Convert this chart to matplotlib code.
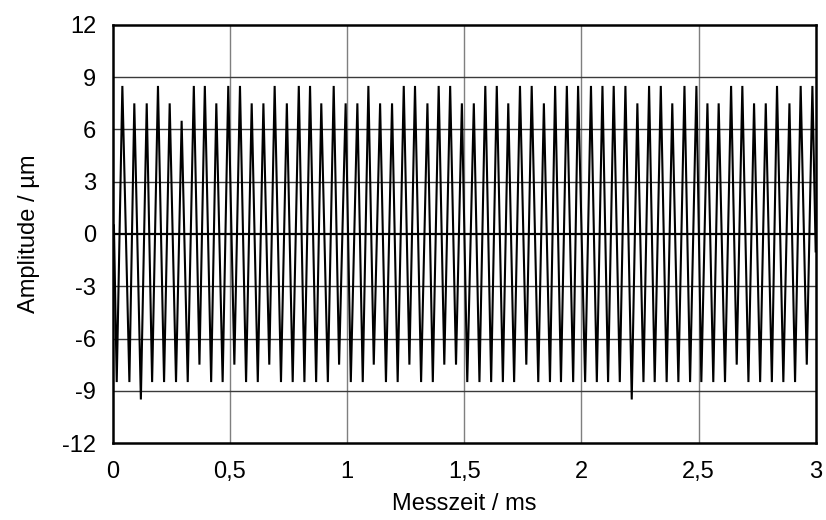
import matplotlib
matplotlib.use("Agg")
import matplotlib.pyplot as plt
from matplotlib.ticker import FuncFormatter

plt.rcParams['font.family'] = ['Liberation Sans', 'DejaVu Sans']

# Start and end of the recorded trace (time in ms, amplitude in µm)
start_point = (0.005, 0.5)
end_point = (3.0, -1.0)

# Positive extremes of the oscillation
peak_times = [
    0.041, 0.092, 0.145, 0.193, 0.243, 0.294, 0.346, 0.393, 0.442, 0.493,
    0.543, 0.593, 0.643, 0.691, 0.743, 0.794, 0.842, 0.890, 0.943, 0.994,
    1.044, 1.091, 1.141, 1.192, 1.242, 1.290, 1.343, 1.391, 1.440, 1.490,
    1.541, 1.590, 1.639, 1.688, 1.738, 1.788, 1.840, 1.888, 1.938, 1.986,
    2.041, 2.090, 2.138, 2.188, 2.239, 2.289, 2.339, 2.388, 2.440, 2.491,
    2.538, 2.586, 2.639, 2.687, 2.737, 2.787, 2.835, 2.888, 2.936, 2.986,
]
peak_values = [
    8.5, 7.5, 7.5, 8.5, 7.5, 6.5, 8.5, 8.5, 7.5, 8.5,
    8.5, 7.5, 7.5, 8.5, 7.5, 8.5, 8.5, 7.5, 8.5, 7.5,
    7.5, 8.5, 7.5, 7.5, 8.5, 8.5, 7.5, 8.5, 8.5, 7.5,
    7.5, 8.5, 8.5, 7.5, 8.5, 8.5, 7.5, 8.5, 8.5, 8.5,
    8.5, 8.5, 8.5, 8.5, 7.5, 8.5, 8.5, 7.5, 8.5, 8.5,
    7.5, 7.5, 8.5, 8.5, 7.5, 7.5, 8.5, 7.5, 8.5, 8.5,
]

# Negative extremes of the oscillation
trough_times = [
    0.017, 0.071, 0.120, 0.168, 0.219, 0.270, 0.320, 0.370, 0.420, 0.469,
    0.519, 0.569, 0.619, 0.668, 0.718, 0.768, 0.818, 0.868, 0.918, 0.966,
    1.016, 1.067, 1.114, 1.166, 1.216, 1.266, 1.316, 1.366, 1.415, 1.465,
    1.513, 1.565, 1.615, 1.665, 1.713, 1.765, 1.816, 1.866, 1.913, 1.965,
    2.016, 2.066, 2.114, 2.164, 2.215, 2.265, 2.313, 2.364, 2.414, 2.464,
    2.512, 2.563, 2.613, 2.663, 2.713, 2.763, 2.813, 2.862, 2.912, 2.962,
]
trough_values = [
    -8.5, -8.5, -9.5, -8.5, -8.5, -8.5, -8.5, -7.5, -8.5, -8.5,
    -7.5, -8.5, -8.5, -7.5, -8.5, -8.5, -8.5, -8.5, -8.5, -7.5,
    -8.5, -8.5, -7.5, -8.5, -8.5, -7.5, -8.5, -8.5, -7.5, -7.5,
    -8.5, -8.5, -8.5, -8.5, -8.5, -7.5, -8.5, -8.5, -8.5, -8.5,
    -8.5, -8.5, -8.5, -8.5, -9.5, -8.5, -8.5, -8.5, -8.5, -8.5,
    -8.5, -8.5, -8.5, -7.5, -8.5, -8.5, -8.5, -8.5, -8.5, -7.5,
]

x_ticks = [0, 0.5, 1, 1.5, 2, 2.5, 3]
y_ticks = [-12, -9, -6, -3, 0, 3, 6, 9, 12]

# Assemble the trace in time order
samples = [start_point] + list(zip(peak_times, peak_values)) \
    + list(zip(trough_times, trough_values)) + [end_point]
samples.sort(key=lambda p: p[0])
t = [p[0] for p in samples]
a = [p[1] for p in samples]

fig = plt.figure(figsize=(8.26, 5.20), dpi=100)
ax = fig.add_axes([0.1365, 0.148, 0.851, 0.804])

ax.set_xlim(0, 3)
ax.set_ylim(-12, 12)
ax.set_xticks(x_ticks)
ax.set_yticks(y_ticks)

for xv in x_ticks[1:-1]:
    ax.axvline(xv, color='#7f7f7f', lw=1.0, zorder=1)
for yv in y_ticks[1:-1]:
    if yv != 0:
        ax.axhline(yv, color='#3a3a3a', lw=1.0, zorder=1)
ax.axhline(0, color='black', lw=1.6, zorder=2)

ax.plot(t, a, color='black', lw=1.5, zorder=3, solid_joinstyle='miter')

for s in ax.spines.values():
    s.set_linewidth(1.8)
    s.set_color('black')

comma = FuncFormatter(lambda v, p: ('%g' % v).replace('.', ','))
ax.xaxis.set_major_formatter(comma)
ax.yaxis.set_major_formatter(comma)
ax.tick_params(axis='both', length=0, labelsize=17, colors='black')
ax.tick_params(axis='x', pad=13)
ax.tick_params(axis='y', pad=12)

ax.set_xlabel('Messzeit / ms', fontsize=17, labelpad=7)
ax.set_ylabel('Amplitude / µm', fontsize=17, labelpad=16)

fig.savefig('out.png', dpi=100)
